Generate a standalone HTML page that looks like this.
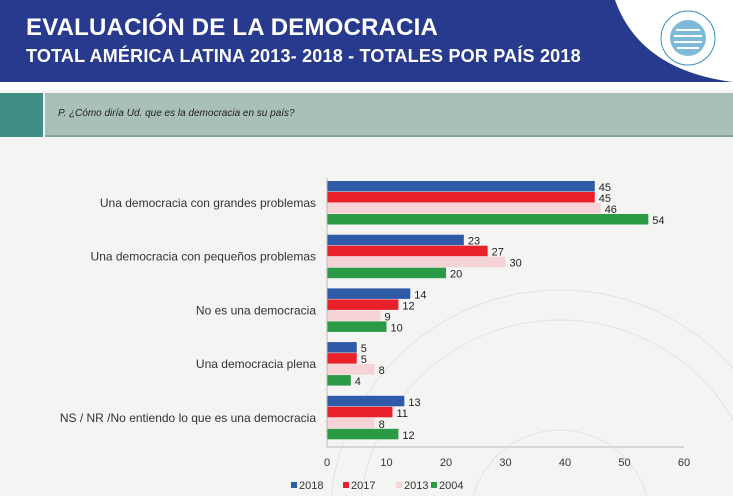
<!DOCTYPE html>
<html><head><meta charset="utf-8"><style>
html,body{margin:0;width:733px;height:496px;overflow:hidden}
body{background:#f4f4f2;font-family:"Liberation Sans",sans-serif;position:relative}
.hdr{position:absolute;left:0;top:0;width:733px;height:82px;background:#283a8e}
.t1{position:absolute;left:26px;top:14px;color:#fff;font-size:24px;font-weight:bold;letter-spacing:0.2px}
.t2{position:absolute;left:26px;top:46px;color:#fff;font-size:18px;font-weight:bold;letter-spacing:0.2px}
.q{position:absolute;left:45px;top:93px;width:688px;height:42px;background:#a8bfba;border-bottom:2px solid #8aa29c}
.qs{position:absolute;left:0;top:93px;width:43px;height:44px;background:#3f8f84}
.qt{position:absolute;left:58px;top:108px;font-size:10px;font-style:italic;color:#222}
</style></head><body>
<div class="hdr"></div>
<svg style="position:absolute;left:0;top:0" width="733" height="140">
<path d="M615,0 Q640,70 733,82 L733,0 Z" fill="#fff"/>
<path d="M0,82 L733,82 L733,90 L0,90Z" fill="#fff"/>
<circle cx="688" cy="38" r="27" fill="none" stroke="#3a8fc0" stroke-width="1"/>
<circle cx="688" cy="38" r="18" fill="#7fb9d8"/>
<path d="M676,30 L700,30 M674,36 L702,36 M674,42 L702,42 M677,48 L699,48" stroke="#fff" stroke-width="2"/>
</svg>
<div class="t1">EVALUACIÓN DE LA DEMOCRACIA</div>
<div class="t2">TOTAL AMÉRICA LATINA 2013-  2018 - TOTALES POR PAÍS 2018</div>
<div class="qs"></div>
<div class="q"></div>
<div class="qt">P. ¿Cómo diría Ud. que es la democracia en su país?</div>
<svg id="c" style="position:absolute;left:0;top:0" width="733" height="496">
<g opacity="0.12" fill="none" stroke="#666"><circle cx="560" cy="520" r="230"/><circle cx="560" cy="520" r="200"/><circle cx="560" cy="520" r="90"/></g>
</svg>
<script>
const categories=["Una democracia con grandes problemas","Una democracia con pequeños problemas","No es una democracia","Una democracia plena","NS / NR /No entiendo lo que es una democracia"];
const years=["2018","2017","2013","2004"];
const v2018=[45,23,14,5,13];
const v2017=[45,27,12,5,11];
const v2013=[46,30,9,8,8];
const v2004=[54,20,10,4,12];
const ticks=[0,10,20,30,40,50,60];
const series=[v2018,v2017,v2013,v2004];
const colors=["#2e5aa8","#e8202a","#f6d3d6","#2a9a44"];
const NS="http://www.w3.org/2000/svg",svg=document.getElementById('c');
const x0=327,x1=684,xmax=60,gy0=181,gStep=53.7,bh=11;
const X=v=>x0+(x1-x0)*v/xmax;
function el(t,a,txt){const e=document.createElementNS(NS,t);for(const k in a)e.setAttribute(k,a[k]);if(txt!==undefined)e.textContent=txt;svg.appendChild(e);return e;}
categories.forEach((c,i)=>{
 const gy=gy0+i*gStep;
 const l=el('text',{x:316,y:gy+bh*2+4,'text-anchor':'end','font-size':12,fill:'#333'},c);
 
 
 series.forEach((s,j)=>{
  const y=gy+j*bh;
  const r=el('rect',{x:x0,y:y,width:X(s[i])-x0,height:bh-0.5,fill:colors[j]});
  
  
  const t=el('text',{x:X(s[i])+4,y:y+bh-1,'font-size':11,fill:'#222'},s[i]);
  
  
 });
});
const ax=el('line',{x1:x0,x2:x0,y1:178,y2:447,stroke:'#bbb'});


const bx=el('line',{x1:x0,x2:x1,y1:447,y2:447,stroke:'#bbb'});


ticks.forEach(t=>{
 const e=el('text',{x:X(t),y:466,'text-anchor':'middle','font-size':11,fill:'#333'},t);
 
 
});
const lx=[291,343,396,431];
years.forEach((y,j)=>{
 const r=el('rect',{x:lx[j],y:482,width:6,height:6,fill:colors[j]});
 
 
 const t=el('text',{x:lx[j]+8,y:489,'font-size':11,fill:'#333'},y);
 
 
});
</script>
</body></html>
